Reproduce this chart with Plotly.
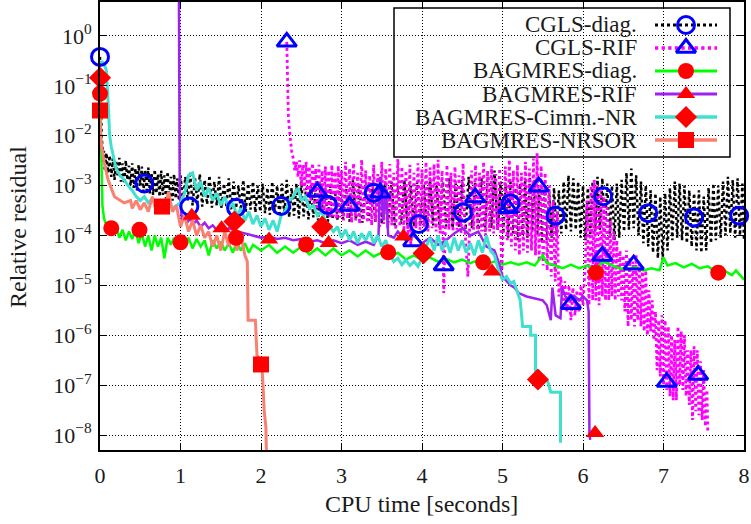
import plotly.graph_objects as go

# ---------------- data ----------------
# CGLS-diag (black dotted)
cgls_diag = [
    (0, 0.38), (0.01, 2e-2), (0.02, 1e-2), (0.03, 6e-3), (0.04, 3e-3), (0.05, 5e-3), (0.06, 2e-3), (0.08, 4.5e-3),
    (0.1, 1.8e-3), (0.12, 4e-3), (0.14, 1.5e-3), (0.16, 3.5e-3), (0.18, 1.3e-3), (0.2, 3e-3), (0.22, 1.6e-3),
    (0.24, 3.6e-3), (0.26, 1.2e-3), (0.28, 2.8e-3), (0.3, 1.1e-3), (0.32, 3.2e-3), (0.34, 1.3e-3), (0.36, 2.5e-3),
    (0.38, 1e-3), (0.4, 2.8e-3), (0.42, 9e-4), (0.44, 2.2e-3), (0.46, 8e-4), (0.48, 2.6e-3), (0.5, 1e-3),
    (0.52, 2.4e-3), (0.54, 7.5e-4), (0.56, 2e-3), (0.58, 8e-4), (0.6, 2.3e-3), (0.62, 7e-4), (0.64, 1.8e-3),
    (0.66, 6.5e-4), (0.68, 2.1e-3), (0.7, 7e-4), (0.72, 1.7e-3), (0.74, 6e-4), (0.76, 2e-3), (0.78, 6.5e-4),
    (0.8, 1.6e-3), (0.82, 5.5e-4), (0.84, 1.9e-3), (0.86, 6e-4), (0.88, 1.5e-3), (0.9, 5e-4), (0.92, 1.7e-3),
    (0.94, 5.5e-4), (0.96, 1.4e-3), (0.98, 5e-4), (1.0, 1.6e-3),
    (1.03, 4.5e-4), (1.06, 1.5e-3), (1.09, 5e-4), (1.12, 1.9e-3), (1.15, 4e-4), (1.18, 1.4e-3), (1.21, 4.5e-4),
    (1.24, 1.7e-3), (1.27, 3.8e-4), (1.3, 1.3e-3), (1.33, 4.2e-4), (1.36, 1.6e-3), (1.39, 3.6e-4), (1.42, 1.2e-3),
    (1.45, 4e-4), (1.48, 1.5e-3), (1.51, 3.5e-4), (1.54, 1.1e-3), (1.57, 3.8e-4), (1.6, 1.4e-3), (1.63, 3.3e-4),
    (1.66, 1.2e-3), (1.69, 3.5e-4), (1.72, 1e-3), (1.75, 3.2e-4), (1.78, 1.3e-3), (1.81, 3e-4), (1.84, 1.1e-3),
    (1.87, 3.3e-4), (1.9, 1.2e-3), (1.93, 2.9e-4), (1.96, 1e-3), (1.99, 3e-4),
    (2.02, 1.1e-3), (2.05, 2.8e-4), (2.08, 9e-4), (2.11, 2.6e-4), (2.14, 1.2e-3), (2.17, 2.8e-4), (2.2, 1e-3),
    (2.23, 2.4e-4), (2.26, 1.1e-3), (2.29, 2.6e-4), (2.32, 1.3e-3), (2.35, 2.3e-4), (2.38, 9e-4), (2.41, 2.5e-4),
    (2.44, 1.1e-3), (2.47, 2.2e-4), (2.5, 1.2e-3), (2.53, 2.4e-4), (2.56, 9e-4), (2.59, 2.1e-4), (2.62, 1e-3),
    (2.65, 2.3e-4), (2.68, 8.5e-4), (2.71, 2e-4), (2.74, 1.1e-3), (2.77, 2.2e-4), (2.8, 9e-4), (2.83, 1.9e-4),
    (2.86, 1e-3), (2.89, 2.1e-4), (2.92, 8e-4), (2.95, 2e-4), (2.98, 1.2e-3),
    (3.02, 2.1e-4), (3.06, 1e-3), (3.1, 1.9e-4), (3.14, 1.3e-3), (3.18, 2.1e-4), (3.22, 1.1e-3), (3.26, 1.8e-4),
    (3.3, 1e-3), (3.34, 2e-4), (3.38, 1.2e-3), (3.42, 1.9e-4), (3.46, 1e-3), (3.5, 1.7e-4), (3.54, 1.1e-3),
    (3.58, 1.8e-4), (3.62, 1.2e-3), (3.66, 1.6e-4), (3.7, 1e-3), (3.74, 1.7e-4), (3.78, 1.3e-3), (3.82, 1.6e-4),
    (3.86, 1e-3), (3.9, 1.5e-4), (3.94, 1.2e-3), (3.98, 1.6e-4), (4.02, 1.1e-3), (4.06, 1.5e-4), (4.1, 1.3e-3),
    (4.14, 1.6e-4), (4.18, 1e-3), (4.22, 1.4e-4), (4.26, 1.2e-3), (4.3, 1.5e-4), (4.34, 1.4e-3), (4.38, 1.4e-4),
    (4.42, 1.1e-3), (4.46, 1.5e-4), (4.5, 1.3e-3), (4.54, 1.3e-4), (4.58, 1.5e-3), (4.62, 1.4e-4), (4.66, 1.2e-3),
    (4.7, 1.3e-4), (4.74, 1.4e-3), (4.78, 1.2e-4), (4.82, 1.6e-3), (4.86, 1.4e-4), (4.9, 2e-3), (4.94, 1.3e-4),
    (4.98, 1.2e-3),
    (5.01, 1.1e-4), (5.04, 1.1e-3), (5.07, 9e-5), (5.1, 1.2e-3), (5.13, 1.1e-4), (5.16, 9e-4), (5.19, 8e-5),
    (5.22, 1.1e-3), (5.25, 1e-4), (5.28, 1.3e-3), (5.31, 9e-5), (5.34, 1.5e-3), (5.37, 1.2e-4), (5.4, 1.3e-3),
    (5.43, 1e-4), (5.46, 9e-4), (5.49, 7e-5), (5.52, 8e-4), (5.55, 8e-5), (5.58, 7e-4), (5.61, 9e-5), (5.64, 9e-4),
    (5.67, 1e-4), (5.7, 8e-4), (5.73, 1.1e-4), (5.76, 1.2e-3), (5.79, 1.3e-4), (5.82, 1.6e-3), (5.85, 1.2e-4),
    (5.88, 1.4e-3), (5.91, 1.3e-4), (5.94, 1.2e-3), (5.97, 9e-5), (6.0, 1e-3), (6.03, 8e-5), (6.06, 9e-4),
    (6.09, 1e-4), (6.12, 1.2e-3), (6.15, 1.2e-4), (6.18, 1.5e-3), (6.21, 1.3e-4), (6.24, 1.4e-3), (6.27, 1.1e-4),
    (6.3, 1.1e-3), (6.33, 9e-5), (6.36, 1e-3), (6.39, 8e-5), (6.42, 1.1e-3), (6.45, 9e-5), (6.48, 1.3e-3),
    (6.51, 1.2e-4), (6.54, 1.8e-3), (6.57, 1.3e-4), (6.6, 2.2e-3), (6.63, 1.4e-4), (6.66, 1.6e-3), (6.69, 1e-4),
    (6.72, 1.2e-3), (6.75, 7e-5), (6.78, 1e-3), (6.81, 6e-5), (6.84, 8e-4), (6.87, 4.5e-5), (6.9, 7e-4),
    (6.93, 3.5e-5), (6.96, 6e-4), (6.99, 3.2e-5), (7.02, 7e-4), (7.05, 5e-5), (7.08, 9e-4), (7.11, 8e-5),
    (7.14, 1.2e-3), (7.17, 9e-5), (7.2, 1.1e-3), (7.23, 8e-5), (7.26, 1e-3), (7.29, 7e-5), (7.32, 8e-4),
    (7.35, 6e-5), (7.38, 7e-4), (7.41, 5e-5), (7.44, 8e-4), (7.47, 4.5e-5), (7.5, 6e-4), (7.53, 5e-5),
    (7.56, 9e-4), (7.59, 7e-5), (7.62, 1.1e-3), (7.65, 8e-5), (7.68, 1e-3), (7.71, 9e-5), (7.74, 1.2e-3),
    (7.77, 1e-4), (7.8, 1.5e-3), (7.83, 1.1e-4), (7.86, 1.3e-3), (7.89, 9e-5), (7.92, 1.4e-3), (7.95, 1e-4),
    (7.98, 1.1e-3), (8.0, 8e-5)]
cgls_diag_marks = [(0, 0.38), (0.55, 1.1e-3), (1.11, 3.8e-4), (1.69, 3.6e-4), (2.25, 3.9e-4), (2.83, 4.1e-4),
                   (3.4, 7.2e-4), (3.96, 1.7e-4), (4.51, 2.9e-4), (5.1, 4.4e-4), (5.66, 2.5e-4),
                   (6.25, 6.1e-4), (6.81, 2.8e-4), (7.38, 2.3e-4), (7.94, 2.5e-4)]

# CGLS-RIF (magenta dotted)
cgls_rif = [
    (2.32, 0.76), (2.33, 5e-2), (2.34, 2.5e-2), (2.35, 1.5e-2), (2.36, 1e-2), (2.37, 7e-3), (2.38, 5e-3),
    (2.4, 3.5e-3), (2.42, 2e-3), (2.44, 3e-3), (2.46, 1.5e-3), (2.48, 3.2e-3), (2.5, 1e-3), (2.52, 2.6e-3),
    (2.54, 8e-4), (2.56, 3e-3), (2.58, 6e-4), (2.6, 2.4e-3), (2.62, 5e-4), (2.64, 2.8e-3), (2.66, 4e-4),
    (2.68, 2.2e-3), (2.7, 3.3e-4), (2.72, 2.6e-3), (2.74, 3e-4), (2.76, 2e-3), (2.78, 2.7e-4), (2.8, 2.4e-3),
    (2.82, 2.5e-4), (2.84, 2e-3), (2.86, 2.2e-4), (2.88, 2.6e-3), (2.9, 2.4e-4), (2.92, 1.9e-3), (2.94, 2.1e-4),
    (2.96, 2.5e-3), (2.98, 2.3e-4), (3.0, 2e-3), (3.025, 2e-4), (3.05, 3e-3), (3.075, 2.2e-4), (3.1, 2.2e-3),
    (3.125, 1.8e-4), (3.15, 2.8e-3), (3.175, 2e-4), (3.2, 1.8e-3), (3.225, 1.7e-4), (3.25, 3.3e-3),
    (3.275, 2e-4), (3.3, 2e-3), (3.325, 1.8e-4), (3.35, 1.6e-3), (3.375, 1.6e-4), (3.4, 2.6e-3), (3.425, 1.9e-4),
    (3.45, 1.7e-3), (3.475, 1.5e-4), (3.5, 3e-3), (3.525, 1.7e-4), (3.55, 2.2e-3), (3.575, 1.4e-4),
    (3.6, 2.7e-3), (3.625, 1.6e-4), (3.65, 1.8e-3), (3.675, 1.3e-4), (3.7, 3.4e-3), (3.725, 1.5e-4),
    (3.75, 2.4e-3), (3.775, 1.2e-4), (3.8, 2e-3), (3.825, 1e-4), (3.85, 2.6e-3), (3.86, 6e-5), (3.875, 1.3e-4),
    (3.9, 1.8e-3), (3.925, 1.4e-4), (3.95, 2.8e-3), (3.975, 1.3e-4), (4.0, 2.1e-3), (4.025, 1.5e-4),
    (4.05, 3e-3), (4.075, 1.2e-4), (4.1, 2.3e-3), (4.125, 1.4e-4), (4.15, 2.7e-3), (4.175, 1.2e-4),
    (4.2, 3.3e-3), (4.225, 1.1e-4), (4.25, 2e-3), (4.27, 7e-6), (4.29, 1e-4), (4.31, 2.6e-3), (4.335, 1.3e-4),
    (4.36, 1.8e-3), (4.385, 1.2e-4), (4.41, 2.4e-3), (4.435, 1.3e-4), (4.46, 1.6e-3), (4.485, 1.1e-4),
    (4.51, 2.8e-3), (4.535, 1.2e-4), (4.57, 1.5e-5), (4.59, 1.2e-4), (4.615, 2e-3), (4.64, 1.3e-4),
    (4.665, 2.6e-3), (4.69, 1.1e-4), (4.715, 1.8e-3), (4.74, 1.2e-4), (4.765, 3e-3), (4.79, 1e-4),
    (4.815, 2e-3), (4.84, 1.2e-4), (4.865, 2.5e-3), (4.89, 1.1e-4), (4.915, 1.7e-3), (4.94, 1.3e-4),
    (4.965, 2.2e-3), (4.99, 1.5e-5), (5.01, 1e-4), (5.035, 2.4e-3), (5.06, 8e-5), (5.085, 3.3e-3), (5.11, 6e-5),
    (5.135, 2e-3), (5.16, 5e-5), (5.185, 2.6e-3), (5.21, 4e-5), (5.235, 1.8e-3), (5.26, 5e-5), (5.285, 3e-3),
    (5.31, 4.5e-5), (5.335, 2.2e-3), (5.36, 5e-5), (5.385, 3.5e-3), (5.41, 4e-5), (5.43, 4.5e-3),
    (5.455, 3e-5), (5.48, 2.5e-3), (5.505, 2.5e-5), (5.53, 1.8e-3), (5.555, 2e-5), (5.58, 1e-3),
    (5.605, 1.5e-5), (5.63, 5e-4), (5.655, 1.2e-5), (5.68, 3e-4), (5.7, 6e-6), (5.725, 1.5e-5), (5.75, 4e-6),
    (5.775, 1.2e-5), (5.8, 3e-6), (5.825, 1e-5), (5.85, 2e-6), (5.875, 9e-6), (5.9, 2.5e-6), (5.925, 8e-6),
    (5.95, 3e-6), (5.975, 1e-5), (6.0, 4e-6), (6.025, 2e-5), (6.05, 5e-4), (6.075, 4e-6), (6.1, 1e-3),
    (6.12, 5e-6), (6.14, 1.3e-3), (6.16, 5e-6), (6.18, 1e-3), (6.2, 4e-6), (6.22, 8e-4), (6.24, 6e-6),
    (6.26, 6e-4), (6.28, 5e-6), (6.3, 4e-4), (6.32, 5e-6), (6.34, 2e-4), (6.36, 6e-6), (6.38, 1.2e-4),
    (6.4, 5e-6), (6.42, 8e-5), (6.44, 6e-6), (6.46, 5e-5), (6.48, 5e-6), (6.5, 4e-5), (6.52, 3e-6),
    (6.54, 5e-5), (6.56, 1.5e-6), (6.58, 3.5e-5), (6.6, 2e-6), (6.62, 3e-5), (6.64, 1.5e-6), (6.66, 4e-5),
    (6.68, 2e-6), (6.7, 3e-5), (6.72, 1.5e-6), (6.74, 2.5e-5), (6.76, 1.2e-6), (6.78, 2e-5), (6.8, 1e-6),
    (6.82, 8e-6), (6.84, 1.2e-6), (6.86, 5e-6), (6.88, 8e-7), (6.9, 3e-6), (6.92, 2e-7), (6.94, 2e-6),
    (6.96, 1.5e-7), (6.98, 2.5e-6), (7.0, 1e-7), (7.02, 2e-6), (7.04, 8e-8), (7.06, 1.5e-6), (7.08, 6e-8),
    (7.1, 1e-6), (7.12, 5e-8), (7.14, 8e-7), (7.16, 5e-8), (7.18, 1.5e-6), (7.2, 1e-7), (7.22, 1.2e-6),
    (7.24, 8e-8), (7.26, 1e-6), (7.28, 6e-8), (7.3, 5e-7), (7.32, 4e-8), (7.34, 5e-7), (7.36, 2e-8),
    (7.38, 6e-7), (7.4, 3e-8), (7.42, 5e-7), (7.44, 2.5e-8), (7.46, 3e-7), (7.48, 2e-8), (7.5, 2e-7),
    (7.52, 1.5e-8), (7.54, 8e-8), (7.55, 1.2e-8)]
cgls_rif_marks = [(2.32, 0.76), (2.70, 7.5e-4), (3.10, 3.9e-4), (3.48, 7.2e-4), (3.89, 7.6e-5), (4.27, 2.5e-5),
                  (4.66, 5.8e-4), (5.07, 3.5e-4), (5.45, 9.5e-4), (5.85, 4.2e-6), (6.24, 3.9e-5),
                  (6.63, 2.6e-5), (7.04, 1.15e-7), (7.43, 1.6e-7)]

# BAGMRES-diag (green)
bag_diag = [(0, 0.07), (0.005, 3e-2), (0.01, 5e-3), (0.02, 1e-3), (0.03, 4e-4), (0.05, 2.2e-4), (0.08, 1.6e-4),
            (0.12, 1.3e-4), (0.16, 1.1e-4), (0.2, 1.5e-4), (0.24, 9e-5), (0.28, 1.3e-4), (0.32, 8e-5),
            (0.36, 1.2e-4), (0.4, 8.5e-5), (0.44, 1.3e-4), (0.48, 7e-5), (0.52, 1.1e-4), (0.56, 6e-5),
            (0.6, 1e-4), (0.64, 5e-5), (0.68, 1e-4), (0.72, 6e-5), (0.76, 9e-5), (0.8, 3.5e-5),
            (0.84, 9e-5), (0.88, 6.5e-5), (0.92, 9e-5), (0.96, 5.5e-5), (1.0, 8e-5), (1.05, 6e-5),
            (1.1, 9e-5), (1.15, 5.5e-5), (1.2, 8.5e-5), (1.25, 6e-5), (1.3, 8e-5), (1.35, 4e-5),
            (1.4, 8e-5), (1.45, 5.5e-5), (1.5, 7.5e-5), (1.55, 5e-5), (1.6, 7e-5), (1.65, 4.5e-5),
            (1.7, 7.5e-5), (1.75, 5e-5), (1.8, 7e-5), (1.85, 4.5e-5), (1.9, 6.5e-5), (2.0, 5e-5),
            (2.1, 6.5e-5), (2.2, 4.5e-5), (2.3, 6e-5), (2.4, 4.5e-5), (2.5, 6e-5), (2.6, 4.2e-5),
            (2.7, 5.5e-5), (2.8, 4e-5), (2.9, 5.5e-5), (3.0, 4e-5), (3.1, 5e-5), (3.2, 3.8e-5),
            (3.3, 5e-5), (3.4, 3.8e-5), (3.5, 4.5e-5), (3.6, 3.6e-5), (3.7, 4.5e-5), (3.8, 3.3e-5),
            (3.9, 4e-5), (4.0, 3.2e-5), (4.1, 3.6e-5), (4.2, 3e-5), (4.3, 3.4e-5), (4.4, 2.9e-5),
            (4.5, 3.3e-5), (4.6, 2.8e-5), (4.7, 3.2e-5), (4.8, 2.7e-5), (4.9, 3e-5), (5.0, 2.6e-5),
            (5.1, 2.9e-5), (5.2, 2.6e-5), (5.3, 2.9e-5), (5.4, 2.5e-5), (5.5, 4e-5), (5.55, 2.8e-5),
            (5.65, 2.5e-5), (5.75, 2.2e-5), (5.85, 2.6e-5), (5.95, 2.2e-5), (6.05, 2.5e-5), (6.15, 2.1e-5),
            (6.25, 3e-5), (6.35, 2.6e-5), (6.45, 2.2e-5), (6.55, 2.1e-5), (6.65, 2.3e-5), (6.75, 2e-5),
            (6.85, 2.2e-5), (6.95, 2e-5), (7.0, 3.6e-5), (7.05, 2.5e-5), (7.15, 2.8e-5), (7.25, 2.3e-5),
            (7.35, 2.7e-5), (7.45, 2.2e-5), (7.55, 2.4e-5), (7.65, 1.9e-5), (7.75, 2e-5), (7.85, 1.6e-5),
            (7.9, 2e-5), (8.0, 1.3e-5)]
bag_diag_marks = [(0, 0.07), (0.14, 1.4e-4), (0.49, 1.3e-4), (1.0, 7.3e-5), (1.69, 9e-5), (2.56, 6.6e-5),
                  (3.58, 4.6e-5), (4.76, 2.9e-5), (6.16, 1.8e-5), (7.68, 1.8e-5)]

# BAGMRES-RIF (purple)
bag_rif = [(0.98, 10), (0.985, 1e-2), (0.99, 1e-3), (1.0, 4e-4), (1.02, 2e-4), (1.05, 2.5e-4), (1.08, 1.8e-4),
           (1.12, 2.2e-4), (1.16, 1.7e-4), (1.2, 2e-4), (1.25, 1.5e-4), (1.3, 1.8e-4), (1.35, 1.4e-4),
           (1.4, 1.6e-4), (1.45, 1.3e-4), (1.5, 1.5e-4), (1.55, 1.2e-4), (1.6, 1.4e-4), (1.7, 1.2e-4),
           (1.8, 1.1e-4), (1.9, 1e-4), (2.0, 9e-5), (2.1, 9.5e-5), (2.2, 8.5e-5), (2.3, 9e-5), (2.4, 8e-5),
           (2.5, 8.5e-5), (2.6, 7.5e-5), (2.7, 8e-5), (2.8, 7e-5), (2.9, 8e-5), (3.0, 7e-5), (3.1, 8e-5),
           (3.2, 6.5e-5), (3.3, 7.5e-5), (3.4, 6.5e-5), (3.46, 1e-4), (3.48, 1.5e-3), (3.52, 2e-4),
           (3.55, 8e-4), (3.58, 1e-4), (3.65, 9e-5), (3.7, 1.2e-4), (3.8, 8e-5), (3.9, 1e-4), (4.0, 7e-5),
           (4.1, 9e-5), (4.2, 6.5e-5), (4.3, 8e-5), (4.4, 1.1e-4), (4.5, 1.4e-4), (4.6, 1e-4),
           (4.7, 1.2e-4), (4.8, 6e-5), (4.9, 5e-5), (4.95, 3e-5), (5.0, 1.5e-5), (5.05, 1.2e-5),
           (5.1, 1e-5), (5.15, 9e-6), (5.2, 7e-6), (5.3, 6e-6), (5.4, 5.5e-6), (5.5, 5e-6), (5.55, 4e-6),
           (5.6, 2e-6), (5.62, 9e-6), (5.66, 2.5e-6), (5.72, 2.2e-6), (5.74, 9e-6), (5.78, 6e-6),
           (5.85, 5e-6), (5.9, 6e-6), (5.95, 5e-6), (6.0, 6e-6), (6.05, 5e-6), (6.07, 3e-6),
           (6.08, 1e-8), (6.09, 8e-9)]
bag_rif_marks = [(1.14, 2.5e-4), (1.51, 1.4e-4), (2.1, 8.3e-5), (2.84, 7.1e-5), (3.77, 9.5e-5), (4.87, 1.9e-5),
                 (6.15, 1.1e-8)]

# BAGMRES-Cimm.-NR (turquoise)
bag_cimm = [(0, 0.3), (0.03, 0.3), (0.06, 0.25), (0.08, 0.2), (0.1, 0.05), (0.12, 1e-2), (0.14, 6e-3),
            (0.17, 3.5e-3), (0.2, 2.2e-3), (0.25, 1.6e-3), (0.3, 1.3e-3), (0.35, 1e-3), (0.4, 8e-4),
            (0.45, 6e-4), (0.5, 5e-4), (0.55, 6e-4), (0.6, 4.5e-4), (0.65, 5.5e-4), (0.7, 4e-4),
            (0.75, 5e-4), (0.8, 3.5e-4), (0.85, 4.5e-4), (0.9, 3.5e-4), (0.95, 4e-4), (1.0, 4.5e-4),
            (1.05, 7e-4), (1.1, 1.6e-3), (1.15, 1.8e-3), (1.2, 8e-4), (1.25, 1.2e-3), (1.3, 6e-4),
            (1.35, 9e-4), (1.4, 5e-4), (1.45, 7e-4), (1.5, 4e-4), (1.55, 6e-4), (1.6, 3.5e-4),
            (1.65, 4.5e-4), (1.7, 2.5e-4), (1.75, 3.5e-4), (1.8, 2e-4), (1.85, 3e-4), (1.9, 1.7e-4),
            (1.95, 2.5e-4), (2.0, 1.5e-4), (2.05, 2.2e-4), (2.1, 1.3e-4), (2.15, 2e-4), (2.2, 1.2e-4),
            (2.25, 2.5e-4), (2.3, 3e-4), (2.35, 5e-4), (2.4, 6e-4), (2.46, 9e-4), (2.5, 5e-4),
            (2.55, 6e-4), (2.6, 3.5e-4), (2.65, 4e-4), (2.7, 2.5e-4), (2.75, 3e-4), (2.8, 2e-4),
            (2.85, 1.5e-4), (2.9, 1.2e-4), (2.95, 1.5e-4), (3.0, 9e-5), (3.05, 1.3e-4), (3.1, 8e-5),
            (3.15, 1.2e-4), (3.2, 7e-5), (3.25, 1.1e-4), (3.3, 8e-5), (3.35, 1.2e-4), (3.4, 7e-5),
            (3.45, 1e-4), (3.5, 6e-5), (3.55, 8e-5), (3.6, 4.5e-5), (3.65, 3e-5), (3.7, 3.5e-5),
            (3.75, 2.6e-5), (3.8, 3.2e-5), (3.85, 2.5e-5), (3.9, 3e-5), (3.95, 2.4e-5), (4.0, 3.5e-5),
            (4.05, 6e-5), (4.1, 9e-5), (4.15, 5e-5), (4.2, 1e-4), (4.25, 5e-5), (4.3, 8e-5), (4.35, 4.5e-5),
            (4.4, 9e-5), (4.45, 5e-5), (4.5, 8e-5), (4.55, 4.5e-5), (4.6, 7e-5), (4.65, 4e-5), (4.7, 8e-5),
            (4.75, 4.5e-5), (4.8, 1e-4), (4.85, 5e-5), (4.9, 4e-5), (4.95, 2e-5), (5.0, 1.3e-5),
            (5.05, 1.5e-5), (5.1, 1.1e-5), (5.14, 1.2e-5), (5.22, 5e-6), (5.25, 1.5e-6), (5.35, 1.5e-6),
            (5.35, 1e-6), (5.41, 1e-6), (5.41, 1.5e-7), (5.51, 1.5e-7), (5.56, 1.2e-7), (5.6, 7.2e-8),
            (5.72, 7.2e-8), (5.72, 7e-9)]
bag_cimm_marks = [(0, 0.145), (1.67, 1.9e-4), (2.76, 1.5e-4), (4.02, 4.4e-5), (5.44, 1.3e-7)]

# BAGMRES-NRSOR (salmon)
bag_nrsor = [(0, 0.032), (0.005, 1.3e-2), (0.02, 6e-3), (0.05, 3e-3), (0.1, 1.3e-3), (0.18, 6e-4),
             (0.3, 4.5e-4), (0.38, 5e-4), (0.4, 3.5e-4), (0.45, 5e-4), (0.5, 3.3e-4), (0.55, 4.5e-4),
             (0.6, 3e-4), (0.65, 6e-4), (0.7, 3e-4), (0.75, 4e-4), (0.8, 3e-4), (0.85, 7.5e-4), (0.9, 3e-4),
             (0.95, 4e-4), (1.0, 1.5e-4), (1.05, 2.5e-4), (1.1, 1.2e-4), (1.15, 2e-4), (1.2, 1e-4),
             (1.25, 1.6e-4), (1.3, 9e-5), (1.35, 1.2e-4), (1.4, 6e-5), (1.45, 1e-4), (1.5, 5e-5),
             (1.55, 1.2e-4), (1.6, 6e-5), (1.65, 1.3e-4), (1.7, 5e-5), (1.75, 1e-4), (1.8, 4e-5),
             (1.83, 3e-5), (1.84, 2e-6), (1.93, 2e-6), (1.95, 4e-7), (2.0, 3e-7), (2.02, 1.5e-7),
             (2.04, 3e-8), (2.06, 1.5e-8), (2.07, 3e-9)]
bag_nrsor_marks = [(0, 0.032), (0.77, 3.8e-4), (2.0, 2.6e-7)]

legend_names = ["CGLS-diag.", "CGLS-RIF", "BAGMRES-diag.", "BAGMRES-RIF", "BAGMRES-Cimm.-NR", "BAGMRES-NRSOR"]

x_ticks = [0, 1, 2, 3, 4, 5, 6, 7, 8]
y_exponents = [0, -1, -2, -3, -4, -5, -6, -7, -8]
y_tick_text = ["10<sup>" + ("−" if e < 0 else "") + str(abs(e)) + "</sup>" for e in y_exponents]

# ---------------- styles ----------------
FONT = "Liberation Serif, DejaVu Serif, serif"
TXT = "#1a1a1a"
BLACK, MAGENTA, GREEN, PURPLE, TURQ, SALMON = "#000000", "#ff00ff", "#00ff00", "#a020f0", "#40e0d0", "#fa8072"
BLUE, RED = "#0000ff", "#ff0000"

series = [
    (cgls_diag, cgls_diag_marks, BLACK, "dot", 2.5, dict(symbol="circle-open", size=17, color=BLUE, line=dict(width=3, color=BLUE))),
    (cgls_rif, cgls_rif_marks, MAGENTA, "dot", 2.8, dict(symbol="triangle-up-open", size=17, color=BLUE, line=dict(width=3, color=BLUE))),
    (bag_diag, bag_diag_marks, GREEN, "solid", 2.5, dict(symbol="circle", size=16, color=RED)),
    (bag_rif, bag_rif_marks, PURPLE, "solid", 2.5, dict(symbol="triangle-up", size=16, color=RED)),
    (bag_cimm, bag_cimm_marks, TURQ, "solid", 3, dict(symbol="diamond", size=17, color=RED)),
    (bag_nrsor, bag_nrsor_marks, SALMON, "solid", 3, dict(symbol="square", size=16, color=RED)),
]

fig = go.Figure()
for line_pts, _, color, dash, width, _m in series:
    fig.add_trace(go.Scatter(x=[p[0] for p in line_pts], y=[p[1] for p in line_pts], mode="lines",
                             line=dict(color=color, dash=dash, width=width), showlegend=False,
                             hoverinfo="skip"))
for _, mk, color, dash, width, m in series:
    fig.add_trace(go.Scatter(x=[p[0] for p in mk], y=[p[1] for p in mk], mode="markers",
                             marker=m, showlegend=False, cliponaxis=False, hoverinfo="skip"))

# ---------------- custom legend (text left of sample, gnuplot style) ----------------
PLOT_L, PLOT_R, PLOT_T, PLOT_B = 100, 744, 2, 450
def px2paper_x(px):
    return (px - PLOT_L) / (PLOT_R - PLOT_L)
def px2paper_y(py):
    return (PLOT_B - py) / (PLOT_B - PLOT_T)

rows_py = [25, 48, 71, 94, 117, 140]
fig.add_shape(type="rect", xref="paper", yref="paper",
              x0=px2paper_x(394), x1=px2paper_x(730), y0=px2paper_y(157), y1=px2paper_y(8),
              line=dict(color="black", width=1.5), fillcolor="white", layer="between")
annotations = []
for name, py, (lp, mk, color, dash, width, m) in zip(legend_names, rows_py, series):
    yy = px2paper_y(py)
    annotations.append(dict(text=name, x=px2paper_x(639), y=yy, xref="paper", yref="paper",
                            xanchor="right", yanchor="middle", showarrow=False,
                            font=dict(family=FONT, size=23, color=TXT)))
    fig.add_trace(go.Scatter(x=[px2paper_x(655), px2paper_x(717)], y=[yy, yy], mode="lines",
                             line=dict(color=color, dash=dash, width=width + 0.5),
                             xaxis="x2", yaxis="y2", showlegend=False, hoverinfo="skip"))
    fig.add_trace(go.Scatter(x=[px2paper_x(686)], y=[yy], mode="markers", marker=m,
                             xaxis="x2", yaxis="y2", showlegend=False, hoverinfo="skip"))

annotations.append(dict(text="CPU time [seconds]", x=px2paper_x(421), y=px2paper_y(504), xref="paper",
                        yref="paper", xanchor="center", yanchor="middle", showarrow=False,
                        font=dict(family=FONT, size=24, color=TXT)))
annotations.append(dict(text="Relative residual", x=px2paper_x(18), y=px2paper_y(227), xref="paper",
                        yref="paper", xanchor="center", yanchor="middle", showarrow=False, textangle=-90,
                        font=dict(family=FONT, size=24, color=TXT)))

axis_common = dict(showline=True, linecolor="black", linewidth=2, mirror="ticks", ticks="inside",
                   ticklen=7, tickwidth=1.2, tickcolor="black", showgrid=True, gridcolor="black",
                   gridwidth=1, griddash="1px,2px", zeroline=False, automargin=False,
                   tickfont=dict(family=FONT, size=22, color=TXT))

fig.update_layout(
    template="none",
    width=751, height=524,
    margin=dict(l=PLOT_L, r=751 - PLOT_R, t=PLOT_T, b=524 - PLOT_B, pad=0),
    paper_bgcolor="white", plot_bgcolor="white",
    showlegend=False,
    xaxis=dict(range=[0, 8], tickvals=x_ticks, ticktext=[str(v) for v in x_ticks],
               ticklabelstandoff=5, **axis_common),
    yaxis=dict(type="log", range=[-8.3, 0.68], tickvals=[10.0 ** e for e in y_exponents],
               ticktext=y_tick_text, ticklabelstandoff=2, **axis_common),
    xaxis2=dict(range=[0, 1], overlaying="x", visible=False, anchor="y2", automargin=False),
    yaxis2=dict(range=[0, 1], overlaying="y", visible=False, anchor="x2", automargin=False),
    annotations=annotations,
)

# remove the browser's default 8px page margin so the figure sits at the window's top-left corner
fig.write_html("out.html", config={"displayModeBar": False},
               post_script="document.body.style.margin='0px';document.body.style.padding='0px';")
